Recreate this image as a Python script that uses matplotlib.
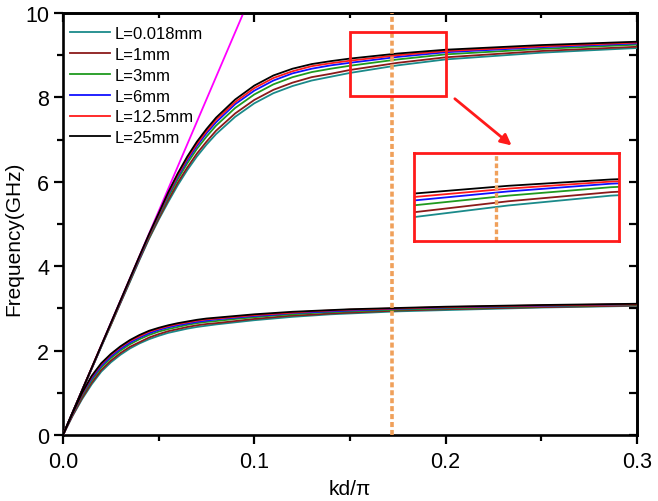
import numpy as np
import matplotlib
matplotlib.use('Agg')
import matplotlib.pyplot as plt
from matplotlib.ticker import MultipleLocator
from matplotlib.patches import Rectangle

plt.rcParams['font.family'] = ['Liberation Sans', 'DejaVu Sans']

# kd/pi sample points
kd = [0, 0.005, 0.01, 0.015, 0.02, 0.025, 0.03, 0.035, 0.04, 0.045, 0.05, 0.055, 0.06,
      0.065, 0.07, 0.075, 0.08, 0.09, 0.1, 0.11, 0.12, 0.13, 0.14, 0.15, 0.175, 0.2,
      0.25, 0.3]

labels = ['L=0.018mm', 'L=1mm', 'L=3mm', 'L=6mm', 'L=12.5mm', 'L=25mm']
colors = ['#1a8a8a', '#8b1a1a', '#1f9a1f', '#1010ff', '#ff1a1a', '#000000']

# upper branch (GHz)
up_0018 = [0, .53, 1.05, 1.57, 2.09, 2.60, 3.12, 3.63, 4.15, 4.65, 5.10, 5.52, 5.92, 6.28,
           6.60, 6.88, 7.13, 7.54, 7.86, 8.10, 8.27, 8.40, 8.49, 8.58, 8.76, 8.90, 9.06, 9.17]
up_1 = [0, .53, 1.05, 1.57, 2.10, 2.61, 3.13, 3.65, 4.17, 4.67, 5.13, 5.57, 5.98, 6.34,
        6.67, 6.95, 7.21, 7.62, 7.94, 8.18, 8.35, 8.48, 8.56, 8.65, 8.82, 8.95, 9.10, 9.20]
up_3 = [0, .53, 1.06, 1.58, 2.10, 2.62, 3.15, 3.67, 4.20, 4.70, 5.18, 5.64, 6.06, 6.44,
        6.78, 7.07, 7.33, 7.75, 8.07, 8.31, 8.48, 8.60, 8.68, 8.75, 8.90, 9.02, 9.15, 9.25]
up_6 = [0, .53, 1.06, 1.58, 2.11, 2.64, 3.16, 3.69, 4.21, 4.73, 5.21, 5.69, 6.12, 6.51,
        6.85, 7.15, 7.41, 7.84, 8.16, 8.40, 8.57, 8.68, 8.76, 8.82, 8.96, 9.07, 9.19, 9.28]
up_125 = [0, .53, 1.06, 1.59, 2.12, 2.64, 3.17, 3.70, 4.23, 4.74, 5.23, 5.72, 6.16, 6.56,
          6.90, 7.20, 7.47, 7.89, 8.22, 8.46, 8.62, 8.74, 8.81, 8.87, 9.00, 9.10, 9.21, 9.30]
up_25 = [0, .53, 1.06, 1.59, 2.12, 2.65, 3.18, 3.71, 4.24, 4.76, 5.25, 5.75, 6.20, 6.60,
         6.95, 7.25, 7.52, 7.95, 8.28, 8.52, 8.68, 8.79, 8.86, 8.92, 9.04, 9.13, 9.24, 9.32]

# lower branch (GHz)
lo_0018 = [0, .45, .85, 1.20, 1.50, 1.72, 1.90, 2.05, 2.17, 2.27, 2.35, 2.42, 2.47, 2.52,
           2.56, 2.59, 2.62, 2.67, 2.72, 2.76, 2.80, 2.83, 2.86, 2.88, 2.93, 2.96, 3.02, 3.06]
lo_1 = [0, .46, .88, 1.24, 1.54, 1.76, 1.94, 2.09, 2.20, 2.31, 2.39, 2.46, 2.51, 2.56,
        2.60, 2.63, 2.65, 2.70, 2.75, 2.79, 2.83, 2.85, 2.88, 2.90, 2.95, 2.98, 3.03, 3.07]
lo_3 = [0, .49, .93, 1.30, 1.60, 1.82, 2.00, 2.15, 2.27, 2.37, 2.45, 2.51, 2.56, 2.61,
        2.65, 2.68, 2.70, 2.75, 2.79, 2.83, 2.86, 2.89, 2.91, 2.93, 2.97, 3.00, 3.05, 3.09]
lo_6 = [0, .50, .96, 1.34, 1.64, 1.86, 2.04, 2.19, 2.31, 2.41, 2.49, 2.55, 2.60, 2.64,
        2.68, 2.71, 2.74, 2.78, 2.82, 2.85, 2.89, 2.91, 2.93, 2.95, 2.99, 3.02, 3.06, 3.10]
lo_125 = [0, .51, .98, 1.38, 1.68, 1.90, 2.08, 2.23, 2.34, 2.45, 2.52, 2.58, 2.63, 2.67,
          2.71, 2.74, 2.76, 2.80, 2.84, 2.87, 2.90, 2.93, 2.95, 2.97, 3.00, 3.03, 3.07, 3.10]
lo_25 = [0, .52, 1.00, 1.40, 1.70, 1.92, 2.10, 2.25, 2.37, 2.47, 2.54, 2.60, 2.65, 2.69,
         2.73, 2.76, 2.78, 2.82, 2.86, 2.89, 2.92, 2.94, 2.96, 2.98, 3.01, 3.04, 3.08, 3.11]

upper = [up_0018, up_1, up_3, up_6, up_125, up_25]
lower = [lo_0018, lo_1, lo_3, lo_6, lo_125, lo_25]

# light line
light_x = [0, 0.0943]
light_y = [0, 10]

kd_mark = 0.172
orange = '#f0a05a'

fig = plt.figure(figsize=(6.58, 5.02), dpi=100)
ax = fig.add_axes([0.0957, 0.1315, 0.8723, 0.8406])

ax.plot(light_x, light_y, color='#ff00ff', lw=1.3, zorder=2)
for i in range(6):
    ax.plot(kd, upper[i], color=colors[i], lw=1.3, label=labels[i], zorder=3)
    ax.plot(kd, lower[i], color=colors[i], lw=1.3, zorder=3)

ax.axvline(kd_mark, color=orange, lw=2.6, ls=(0, (1.4, 0.8)), zorder=4)

ax.add_patch(Rectangle((0.15, 8.03), 0.05, 1.52, fill=False, ec='#ff1a1a', lw=2, zorder=5))
ax.annotate('', xy=(0.2356, 6.82), xytext=(0.2037, 8.01),
            arrowprops=dict(arrowstyle='-|>', color='#ff1a1a', lw=2, mutation_scale=16))

ax.set_xlim(0, 0.3)
ax.set_ylim(0, 10)
ax.set_xticks([0, 0.1, 0.2, 0.3])
ax.set_xticklabels(['0.0', '0.1', '0.2', '0.3'])
ax.set_yticks([0, 2, 4, 6, 8, 10])
ax.xaxis.set_minor_locator(MultipleLocator(0.05))
ax.yaxis.set_minor_locator(MultipleLocator(1))
ax.tick_params(which='both', direction='out', top=False, right=False, labelsize=15.5, width=1.6)
ax.tick_params(which='major', length=6.5)
ax.tick_params(which='minor', length=4.5)
ax.tick_params(axis='x', pad=5)
for s in ax.spines.values():
    s.set_linewidth(1.9)

top = ax.secondary_xaxis('top')
top.set_xticks([0, 0.1, 0.2, 0.3])
top.xaxis.set_minor_locator(MultipleLocator(0.05))
top.tick_params(which='both', direction='in', labeltop=False, width=1.6)
top.tick_params(which='major', length=6.5)
top.tick_params(which='minor', length=3.5)
right = ax.secondary_yaxis('right')
right.set_yticks([0, 2, 4, 6, 8, 10])
right.yaxis.set_minor_locator(MultipleLocator(1))
right.tick_params(which='both', direction='in', labelright=False, width=1.6, length=6)
for sec in (top, right):
    for s in sec.spines.values():
        s.set_linewidth(1.9)

ax.set_xlabel('kd/π', fontsize=15, labelpad=5)
ax.set_ylabel('Frequency(GHz)', fontsize=15)
ax.yaxis.set_label_coords(-0.07, 0.467)

ax.legend(loc='upper left', bbox_to_anchor=(0.0, 0.985), frameon=False, fontsize=12,
          handlelength=2.4, handletextpad=0.3, labelspacing=0.35, borderaxespad=0.1,
          borderpad=0.3)

# zoomed inset
ins = fig.add_axes([0.629, 0.518, 0.312, 0.175])
for i in range(6):
    ins.plot(kd, upper[i], color=colors[i], lw=1.3)
ins.axvline(kd_mark, color=orange, lw=2.4, ls=(0, (1.4, 0.8)))
ins.set_xlim(0.152, 0.202)
ins.set_ylim(8.255, 9.505)
ins.set_xticks([])
ins.set_yticks([])
for s in ins.spines.values():
    s.set_color('#ff1a1a')
    s.set_linewidth(2)

fig.savefig('out.png', dpi=100)
